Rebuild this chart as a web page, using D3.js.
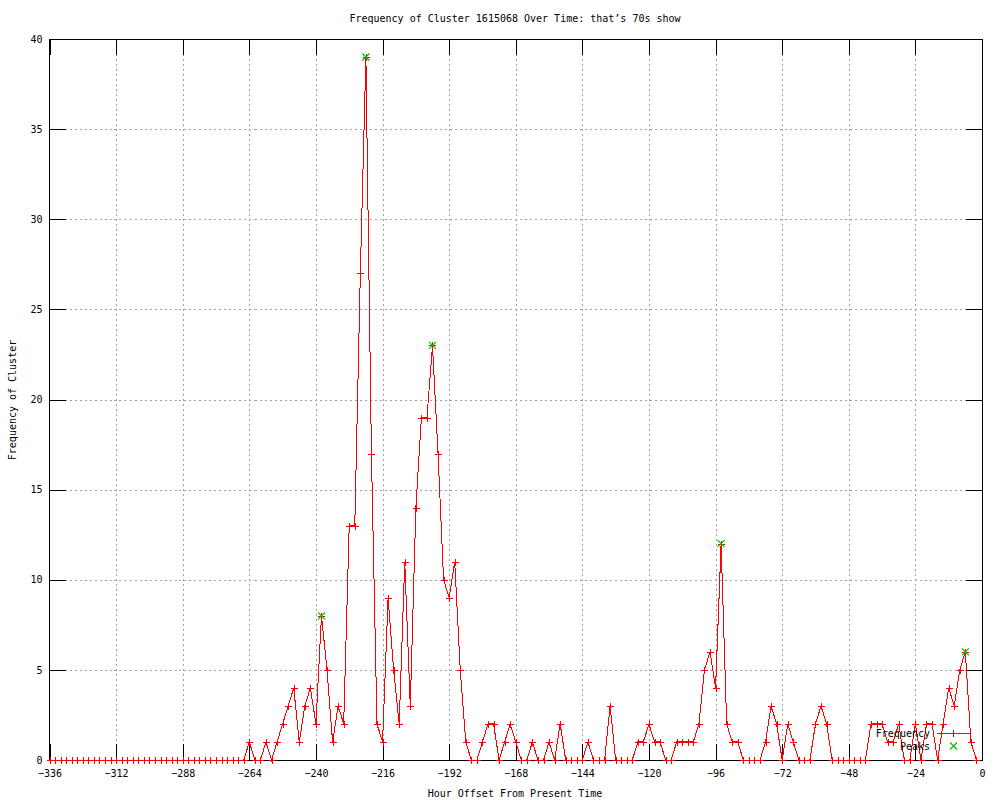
<!DOCTYPE html>
<html>
<head>
<meta charset="utf-8">
<script src="https://cdn.jsdelivr.net/npm/d3@7"></script>
<style>
  html, body { margin: 0; padding: 0; background: #fff; }
  svg { display: block; }
  text { font-family: "DejaVu Sans Mono", "Liberation Mono", monospace; font-size: 10px; fill: #000; }
</style>
</head>
<body>
<svg id="chart" width="1000" height="800"></svg>
<script>
// ---- data ----
const titleText = "Frequency of Cluster 1615068 Over Time: that\u2019s 70s show";
const xTitle = "Hour Offset From Present Time";
const yTitle = "Frequency of Cluster";

const hours = [
  -336,-334,-332,-330,-328,-326,-324,-322,-320,-318,-316,-314,
  -312,-310,-308,-306,-304,-302,-300,-298,-296,-294,-292,-290,
  -288,-286,-284,-282,-280,-278,-276,-274,-272,-270,-268,-266,
  -264,-262,-260,-258,-256,-254,-252,-250,-248,-246,-244,-242,
  -240,-238,-236,-234,-232,-230,-228,-226,-224,-222,-220,-218,
  -216,-214,-212,-210,-208,-206,-204,-202,-200,-198,-196,-194,
  -192,-190,-188,-186,-184,-182,-180,-178,-176,-174,-172,-170,
  -168,-166,-164,-162,-160,-158,-156,-154,-152,-150,-148,-146,
  -144,-142,-140,-138,-136,-134,-132,-130,-128,-126,-124,-122,
  -120,-118,-116,-114,-112,-110,-108,-106,-104,-102,-100,-98,
  -96,-94,-92,-90,-88,-86,-84,-82,-80,-78,-76,-74,
  -72,-70,-68,-66,-64,-62,-60,-58,-56,-54,-52,-50,
  -48,-46,-44,-42,-40,-38,-36,-34,-32,-30,-28,-26,
  -24,-22,-20,-18,-16,-14,-12,-10,-8,-6,-4,-2
];
const frequency = [
  0,0,0,0,0,0,0,0,0,0,0,0,
  0,0,0,0,0,0,0,0,0,0,0,0,
  0,0,0,0,0,0,0,0,0,0,0,0,
  1,0,0,1,0,1,2,3,4,1,3,4,
  2,8,5,1,3,2,13,13,27,39,17,2,
  1,9,5,2,11,3,14,19,19,23,17,10,
  9,11,5,1,0,0,1,2,2,0,1,2,
  1,0,0,1,0,0,1,0,2,0,0,0,
  0,1,0,0,0,3,0,0,0,0,1,1,
  2,1,1,0,0,1,1,1,1,2,5,6,
  4,12,2,1,1,0,0,0,0,1,3,2,
  0,2,1,0,0,0,2,3,2,0,0,0,
  0,0,0,0,2,2,2,1,1,2,0,0,
  2,0,2,2,0,2,4,3,5,6,1,0
];
const peakHours = [-238, -222, -198, -94, -6];
const peakValues = [8, 39, 23, 12, 6];

const xTicks = [-336,-312,-288,-264,-240,-216,-192,-168,-144,-120,-96,-72,-48,-24,0];
const yTicks = [0,5,10,15,20,25,30,35,40];
const legendLabels = ["Frequency", "Peaks"];

// ---- layout ----
const svg = d3.select("#chart");
const L = 49.5, R = 982, T = 39, B = 760;
const x = d3.scaleLinear().domain([-336, 0]).range([L, R]);
const y = d3.scaleLinear().domain([0, 40]).range([B, T]);

svg.append("rect").attr("width", 1000).attr("height", 800).attr("fill", "#fff");

// grid
const grid = svg.append("g").attr("stroke", "#a0a0a0").attr("stroke-width", 1)
  .attr("stroke-dasharray", "2,3").attr("shape-rendering", "crispEdges");
grid.selectAll("line.gx").data(xTicks.slice(1, -1)).enter().append("line")
  .attr("x1", d => Math.round(x(d)) + 0.5).attr("x2", d => Math.round(x(d)) + 0.5)
  .attr("y1", T).attr("y2", B);
grid.selectAll("line.gy").data(yTicks.slice(1, -1)).enter().append("line")
  .attr("y1", d => Math.round(y(d)) + 0.5).attr("y2", d => Math.round(y(d)) + 0.5)
  .attr("x1", L).attr("x2", R);

// axes
function styleAxis(g) {
  g.select(".domain").remove();
  g.selectAll(".tick line").attr("stroke", "#000").attr("shape-rendering", "crispEdges");
  g.selectAll(".tick text").style("font-family", "DejaVu Sans Mono, monospace").style("font-size", "10px");
}
svg.append("g").attr("transform", `translate(0,${B})`)
  .call(d3.axisBottom(x).tickValues(xTicks).tickSize(-16).tickPadding(10).tickFormat(d3.format("d")))
  .call(styleAxis);
svg.append("g").attr("transform", `translate(0,${T})`)
  .call(d3.axisTop(x).tickValues(xTicks).tickSize(-16).tickFormat(""))
  .call(styleAxis);
svg.append("g").attr("transform", `translate(${L},0)`)
  .call(d3.axisLeft(y).tickValues(yTicks).tickSize(-16).tickPadding(7).tickFormat(d3.format("d")))
  .call(styleAxis);
svg.append("g").attr("transform", `translate(${R},0)`)
  .call(d3.axisRight(y).tickValues(yTicks).tickSize(-16).tickFormat(""))
  .call(styleAxis);

// border
svg.append("rect").attr("x", L).attr("y", T).attr("width", R - L).attr("height", B - T)
  .attr("fill", "none").attr("stroke", "#000").attr("stroke-width", 1).attr("shape-rendering", "crispEdges");

// titles
svg.append("text").attr("x", 515).attr("y", 22).attr("text-anchor", "middle").text(titleText);
svg.append("text").attr("x", 515).attr("y", 797).attr("text-anchor", "middle").text(xTitle);
svg.append("text").attr("transform", "translate(16,400) rotate(-90)").attr("text-anchor", "middle").text(yTitle);

// data
const pts = hours.map((h, i) => ({ h, v: frequency[i] }));
const line = d3.line().x(d => x(d.h)).y(d => y(d.v));
svg.append("path").datum(pts).attr("d", line)
  .attr("fill", "none").attr("stroke", "#ff0000").attr("stroke-width", 1)
  .attr("shape-rendering", "crispEdges");

const s = 3.5;
function plusPath(cx, cy) {
  cx = Math.round(cx) + 0.5; cy = Math.round(cy) + 0.5;
  return `M${cx - s},${cy}H${cx + s}M${cx},${cy - s}V${cy + s}`;
}
function crossPath(cx, cy) {
  return `M${cx - s},${cy - s}L${cx + s},${cy + s}M${cx - s},${cy + s}L${cx + s},${cy - s}`;
}
svg.append("g").selectAll("path").data(pts).enter().append("path")
  .attr("d", d => plusPath(x(d.h), y(d.v)))
  .attr("stroke", "#ff0000").attr("stroke-width", 1).attr("fill", "none")
  .attr("shape-rendering", "crispEdges");

const peaks = peakHours.map((h, i) => ({ h, v: peakValues[i] }));
svg.append("g").selectAll("path").data(peaks).enter().append("path")
  .attr("d", d => crossPath(x(d.h), y(d.v)))
  .attr("stroke", "#00c000").attr("stroke-width", 1.2).attr("fill", "none");

// legend
const lg = svg.append("g");
lg.append("text").attr("x", 930).attr("y", 737).attr("text-anchor", "end").text(legendLabels[0]);
lg.append("line").attr("x1", 937).attr("x2", 970).attr("y1", 733.5).attr("y2", 733.5)
  .attr("stroke", "#ff0000").attr("stroke-width", 1).attr("shape-rendering", "crispEdges");
lg.append("path").attr("d", plusPath(953, 733)).attr("stroke", "#ff0000").attr("fill", "none")
  .attr("shape-rendering", "crispEdges");
lg.append("text").attr("x", 930).attr("y", 750).attr("text-anchor", "end").text(legendLabels[1]);
lg.append("path").attr("d", crossPath(953.5, 746)).attr("stroke", "#00c000").attr("stroke-width", 1.2)
  .attr("fill", "none");
</script>
</body>
</html>
